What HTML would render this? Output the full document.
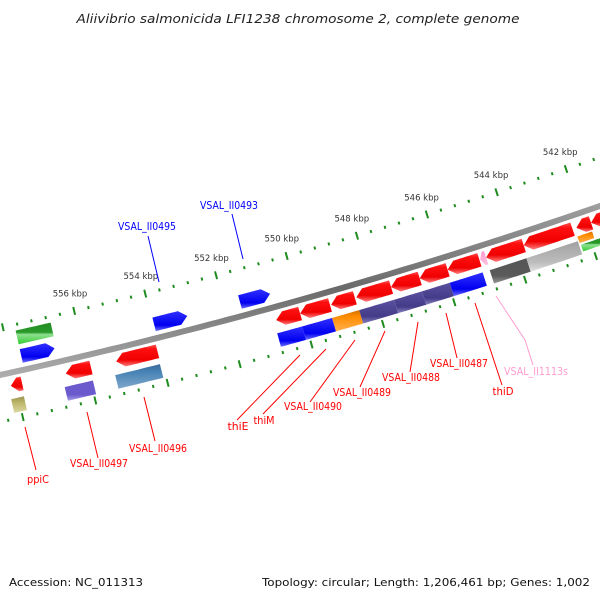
<!DOCTYPE html>
<html><head><meta charset="utf-8"><style>
html,body{margin:0;padding:0;background:#fff;width:600px;height:600px;overflow:hidden}
svg{display:block;font-family:"DejaVu Sans","Liberation Sans",sans-serif}
</style></head><body>
<svg id="map" width="600" height="600" viewBox="0 0 600 600" xmlns="http://www.w3.org/2000/svg">
<defs>
<linearGradient id="g-red" x1="0" y1="0" x2="0" y2="1"><stop offset="0" stop-color="#ff5050"/><stop offset="0.2" stop-color="#ff1010"/><stop offset="0.7" stop-color="#f00000"/><stop offset="1" stop-color="#ff8080"/></linearGradient>
<linearGradient id="g-blue" x1="0" y1="0" x2="0" y2="1"><stop offset="0" stop-color="#3030ff"/><stop offset="0.7" stop-color="#0000f0"/><stop offset="1" stop-color="#7070ff"/></linearGradient>
<linearGradient id="g-slate" x1="0" y1="0" x2="0" y2="1"><stop offset="0" stop-color="#5a4fa0"/><stop offset="0.7" stop-color="#443c88"/><stop offset="1" stop-color="#8a82c0"/></linearGradient>
<linearGradient id="g-sb" x1="0" y1="0" x2="0" y2="1"><stop offset="0" stop-color="#6a5acd"/><stop offset="0.7" stop-color="#6a5acd"/><stop offset="1" stop-color="#a8a0e8"/></linearGradient>
<linearGradient id="g-steel" x1="0" y1="0" x2="0" y2="1"><stop offset="0" stop-color="#3a6a98"/><stop offset="0.3" stop-color="#4682b4"/><stop offset="1" stop-color="#7fa8cc"/></linearGradient>
<linearGradient id="g-orange" x1="0" y1="0" x2="0" y2="1"><stop offset="0" stop-color="#d07000"/><stop offset="0.3" stop-color="#ff8c00"/><stop offset="1" stop-color="#ffb050"/></linearGradient>
<linearGradient id="g-dgray" x1="0" y1="0" x2="0" y2="1"><stop offset="0" stop-color="#555"/><stop offset="0.7" stop-color="#5a5a5a"/><stop offset="1" stop-color="#999"/></linearGradient>
<linearGradient id="g-lgray" x1="0" y1="0" x2="0" y2="1"><stop offset="0" stop-color="#a0a0a0"/><stop offset="0.7" stop-color="#bdbdbd"/><stop offset="1" stop-color="#e0e0e0"/></linearGradient>
<linearGradient id="g-green" x1="0" y1="0" x2="0" y2="1"><stop offset="0" stop-color="#228b22"/><stop offset="0.45" stop-color="#2a9a2a"/><stop offset="0.55" stop-color="#90e090"/><stop offset="1" stop-color="#32cd32"/></linearGradient>
<linearGradient id="g-olive" x1="0" y1="0" x2="0" y2="1"><stop offset="0" stop-color="#9a9450"/><stop offset="0.4" stop-color="#bdb76b"/><stop offset="1" stop-color="#dcd8a0"/></linearGradient>
<linearGradient id="g-pink" x1="0" y1="0" x2="0" y2="1"><stop offset="0" stop-color="#ff9ad0"/><stop offset="1" stop-color="#ffc0e0"/></linearGradient>
<linearGradient id="g-bb" x1="0" y1="0" x2="0" y2="1"><stop offset="0" stop-color="#aaa"/><stop offset="0.5" stop-color="#6a6a6a"/><stop offset="1" stop-color="#b8b8b8"/></linearGradient>
</defs>
<text x="298" y="23" text-anchor="middle" font-size="12" font-style="italic" fill="#222" textLength="443" lengthAdjust="spacingAndGlyphs">Aliivibrio salmonicida LFI1238 chromosome 2, complete genome</text>
<g id="ticks"></g>
<g id="backbone"></g>
<g id="features"></g>
<g id="leaders"></g>
<text x="9" y="586" font-size="11" fill="#111" textLength="134" lengthAdjust="spacingAndGlyphs">Accession: NC_011313</text>
<text x="262" y="586" font-size="11" fill="#111" textLength="328" lengthAdjust="spacingAndGlyphs">Topology: circular; Length: 1,206,461 bp; Genes: 1,002</text>
</svg>
<script>
// ---- data (kbp coordinates) ----
const featStart = [550.07,549.23,548.53,547.51,546.70,545.91,545.01,543.75,542.36,541.83,541.40,555.91,554.06,557.82,544.82,
                   550.11,549.27,548.51,547.53,546.74,545.96,545.03,543.79,542.33,555.94,554.08,557.85,541.88,541.60,
                   553.04,550.71,556.75,558.30,556.70];
const featEnd   = [550.74,550.07,549.20,548.49,547.51,546.70,545.91,544.82,543.75,542.25,541.83,556.61,555.21,558.13,544.99,
                   550.81,550.11,549.27,548.51,547.53,546.74,545.96,544.83,543.79,556.72,555.32,558.20,542.30,542.28,
                   553.97,551.56,557.68,559.50,557.68];
const featStrand= [1,1,1,1,1,1,1,1,1,1,1,1,1,1,1,
                   0,0,0,0,0,0,0,0,0,0,0,0,0,0,
                   -1,-1,-1,-1,0];
const featRow   = [13,13,13,13,13,13,13,13,13,13,13,13,13,13,13,
                   33,33,33,33,33,33,33,33,33,33,33,33,25,34,
                   -14,-14,-14,-13,-33];
const featColor = ['red','red','red','red','red','red','red','red','red','red','red','red','red','red','pink',
                   'blue','blue','orange','slate','slate','slate','blue','dgray','lgray','sb','steel','olive','orange','green',
                   'blue','blue','blue','blue','green'];
const tickLabelKbp = [542,544,546,548,550,552,554,556];
const tickLabels = ['542 kbp','544 kbp','546 kbp','548 kbp','550 kbp','552 kbp','554 kbp','556 kbp'];

// ---- geometry: arc of the genome circle ----
const P1=[0,375],P2=[300,300],P3=[600,206];
function circ(a,b,c){
  const d=2*(a[0]*(b[1]-c[1])+b[0]*(c[1]-a[1])+c[0]*(a[1]-b[1]));
  const A=a[0]*a[0]+a[1]*a[1],B=b[0]*b[0]+b[1]*b[1],C=c[0]*c[0]+c[1]*c[1];
  const ux=(A*(b[1]-c[1])+B*(c[1]-a[1])+C*(a[1]-b[1]))/d;
  const uy=(A*(c[0]-b[0])+B*(a[0]-c[0])+C*(b[0]-a[0]))/d;
  return [ux,uy];
}
const CEN=circ(P1,P2,P3);
const R=Math.hypot(P2[0]-CEN[0],P2[1]-CEN[1]);
const th550=Math.atan2(300-CEN[1],299-CEN[0]);
const PXKBP=36.9;
function pt(kbp,off){
  const t=th550+(kbp-550)*PXKBP/R, r=R+off;
  return [CEN[0]+r*Math.cos(t), CEN[1]+r*Math.sin(t)];
}
const NS='http://www.w3.org/2000/svg';
function mk(tag,attrs,parent){const e=document.createElementNS(NS,tag);for(const k in attrs)e.setAttribute(k,attrs[k]);parent.appendChild(e);return e;}
const f=p=>p[0].toFixed(1)+','+p[1].toFixed(1);

// backbone
(function(){
  const g=document.getElementById('backbone');
  const pts=[];
  for(let k=540;k<=560;k+=0.25)pts.push(pt(k,-3));
  for(let k=560;k>=540;k-=0.25)pts.push(pt(k,3));
  const p=mk('polygon',{points:pts.map(f).join(' '),fill:'url(#g-bb)'},g);
  
  
})();

// ticks
(function(){
  const g=document.getElementById('ticks');
  for(let i=0;i<=50;i++){
    const k=540+i*0.4;
    const major=(i%5===0);
    [-46,46].forEach(o=>{
      const L=major?4:1.5;
      const a=pt(k,o-L),b=pt(k,o+L);
      const l=mk('line',{x1:a[0],y1:a[1],x2:b[0],y2:b[1],stroke:'#1e8c1e','stroke-width':2},g);
      
      
    });
  }
  tickLabelKbp.forEach((k,i)=>{
    const p=pt(k,-64);
    const t=mk('text',{x:p[0],y:p[1]+3,'text-anchor':'middle','font-size':'8.5',fill:'#333'},g);
    t.textContent=tickLabels[i];
    
    
  });
})();

// features
(function(){
  const g=document.getElementById('features');
  for(let i=0;i<featStart.length;i++){
    const a=featStart[i],b=featEnd[i],o=featRow[i],s=featStrand[i];
    const h=(featColor[i]==='orange'&&o===25)||(featColor[i]==='green'&&o===34)?7:14;
    const hh=h/2, head=Math.min(8/PXKBP,(b-a)*0.6);
    const pts=[];
    let lo=a,hi=b;
    if(s===1)hi=b-head; if(s===-1)lo=a+head;
    const n=12;
    if(s===-1)pts.push(pt(a,o));
    for(let j=0;j<=n;j++)pts.push(pt(lo+(hi-lo)*j/n,o-hh));
    if(s===1)pts.push(pt(b,o));
    for(let j=n;j>=0;j--)pts.push(pt(lo+(hi-lo)*j/n,o+hh));
    const p=mk('polygon',{points:pts.map(f).join(' '),fill:'url(#g-'+featColor[i]+')'},g);
    
    
  }
})();

// leader lines and gene labels
(function(){
  const g=document.getElementById('leaders');
  const L=[
    ['VSAL_II0495','#0000ff',147,230,[[148,236],[159,282]]],
    ['VSAL_II0493','#0000ff',229,209,[[232,214],[243,259]]],
    ['ppiC','#ff0000',38,483,[[36,470],[25,427]]],
    ['VSAL_II0497','#ff0000',99,467,[[98,458],[87,412]]],
    ['VSAL_II0496','#ff0000',158,452,[[155,441],[144,397]]],
    ['thiE','#ff0000',238,430,[[237,420],[300,355]]],
    ['thiM','#ff0000',264,424,[[263,414],[326,349]]],
    ['VSAL_II0490','#ff0000',313,410,[[310,402],[355,340]]],
    ['VSAL_II0489','#ff0000',362,396,[[360,387],[385,331]]],
    ['VSAL_II0488','#ff0000',411,381,[[410,372],[418,322]]],
    ['VSAL_II0487','#ff0000',459,367,[[457,358],[446,313]]],
    ['thiD','#ff0000',503,395,[[502,385],[475,303]]],
    ['VSAL_II1113s','#ff9ccf',536,375,[[533,365],[525,340],[496,296]]]
  ];
  L.forEach(d=>{
    const pl=mk('polyline',{points:d[4].map(p=>p.join(',')).join(' '),fill:'none',stroke:d[1],'stroke-width':1},g);
    
    
    const len=d[0].length>5?(d[0].length===12?64:58):(d[0]==='ppiC'?22:21);
    const t=mk('text',{x:d[2],y:d[3],'text-anchor':'middle','font-size':'10.5',fill:d[1],textLength:len,lengthAdjust:'spacingAndGlyphs'},g);
    t.textContent=d[0];
    
    
  });
})();
</script>
</body></html>
